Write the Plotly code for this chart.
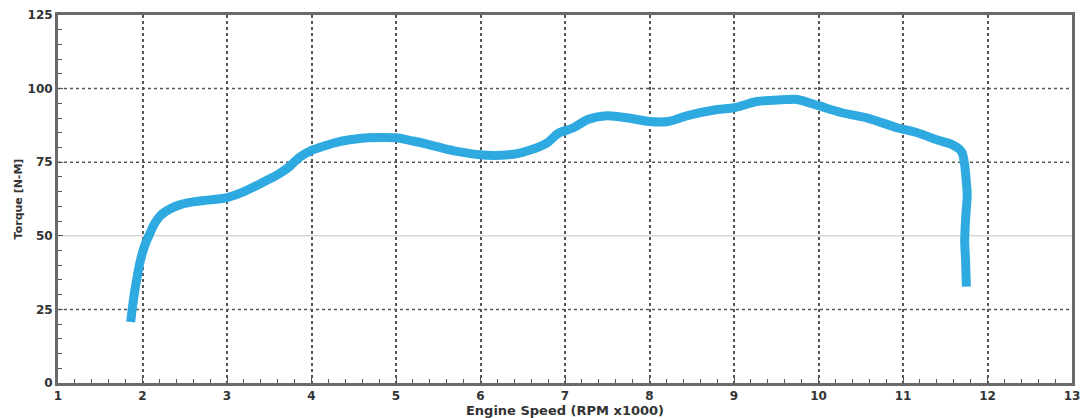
import plotly.graph_objects as go

rpm_k = [1.86, 1.88, 1.91, 1.94, 1.97, 2.03, 2.09, 2.14, 2.20, 2.26, 2.35, 2.44, 2.53, 2.62, 2.80, 3.00,
         3.20, 3.44, 3.60, 3.74, 3.85, 4.00, 4.15, 4.33, 4.50, 4.68, 4.85, 5.00, 5.20, 5.39, 5.55,
         5.74, 6.00, 6.15, 6.33, 6.45, 6.57, 6.70, 6.80, 6.92, 7.10, 7.27, 7.50, 7.75, 8.00, 8.22,
         8.45, 8.80, 9.00, 9.27, 9.45, 9.63, 9.75, 10.00, 10.28, 10.58, 10.93, 11.17, 11.40, 11.58,
         11.66, 11.70, 11.73, 11.75, 11.76, 11.74, 11.73, 11.74, 11.75]
torque = [20.7, 25.5, 31.6, 36.5, 41.0, 47.0, 51.0, 54.0, 56.5, 58.0, 59.5, 60.5, 61.2, 61.6, 62.2, 63.0,
          65.0, 68.4, 70.8, 73.5, 76.5, 79.0, 80.5, 82.0, 82.8, 83.3, 83.4, 83.3, 82.2, 81.0, 79.8,
          78.6, 77.5, 77.3, 77.5, 78.0, 79.0, 80.3, 81.8, 84.8, 86.7, 89.5, 90.8, 90.0, 88.8, 88.8,
          90.8, 92.9, 93.5, 95.6, 96.0, 96.3, 96.3, 94.2, 91.8, 90.0, 86.7, 85.0, 82.6, 81.0,
          79.6, 78.2, 74.0, 68.0, 64.0, 55.4, 48.0, 42.0, 32.7]

x_ticks = list(range(1, 14))
y_ticks = [0, 25, 50, 75, 100, 125]

fig = go.Figure()
fig.add_trace(go.Scatter(x=rpm_k, y=torque, mode="lines",
                         line=dict(color="#2eaae1", width=9, shape="spline", smoothing=0.8),
                         hoverinfo="skip"))

tick_font = dict(family="DejaVu Sans", size=12, color="#333333", weight="bold")

# y grid lines: dotted at 25/75/100, light solid at 50
for yv in [25, 75, 100]:
    fig.add_shape(type="line", xref="x domain", yref="y", x0=0, x1=1, y0=yv, y1=yv,
                  line=dict(color="#555555", width=1.5, dash="dot"), layer="below")
fig.add_shape(type="line", xref="x domain", yref="y", x0=0, x1=1, y0=50, y1=50,
              line=dict(color="#d8d8d8", width=1.5), layer="below")

fig.update_layout(
    width=1082, height=418,
    margin=dict(l=58, r=10, t=15, b=35, autoexpand=False),
    paper_bgcolor="white", plot_bgcolor="white",
    showlegend=False,
    xaxis=dict(range=[1, 13], tickvals=x_ticks, ticktext=[str(v) for v in x_ticks],
               automargin=False, ticklabeloverflow="allow",
               showgrid=True, griddash="dot", gridcolor="#555555", gridwidth=1.5,
               showline=True, linecolor="#6a6a6a", linewidth=3, mirror=True,
               ticks="inside", ticklen=5, tickcolor="#555555",
               minor=dict(dtick=0.2, ticks="inside", ticklen=4, tickcolor="#555555", showgrid=False),
               tickfont=tick_font, zeroline=False,
               title=dict(text="Engine Speed (RPM x1000)", standoff=0,
                          font=dict(family="DejaVu Sans", size=13, color="#333333", weight="bold"))),
    yaxis=dict(range=[0, 125], tickvals=y_ticks, ticktext=[str(v) for v in y_ticks],
               automargin=False, ticklabeloverflow="allow",
               showgrid=False,
               showline=True, linecolor="#6a6a6a", linewidth=3, mirror=True,
               ticks="inside", ticklen=5, tickcolor="#555555",
               minor=dict(dtick=5, ticks="inside", ticklen=4, tickcolor="#555555", showgrid=False),
               tickfont=tick_font, zeroline=False,
               title=dict(text="Torque [N-M]", standoff=3,
                          font=dict(family="DejaVu Sans", size=11, color="#333333", weight="bold"))),
)

fig.write_html("out.html", config={"displayModeBar": False},
               post_script="document.body.style.margin='0';")
